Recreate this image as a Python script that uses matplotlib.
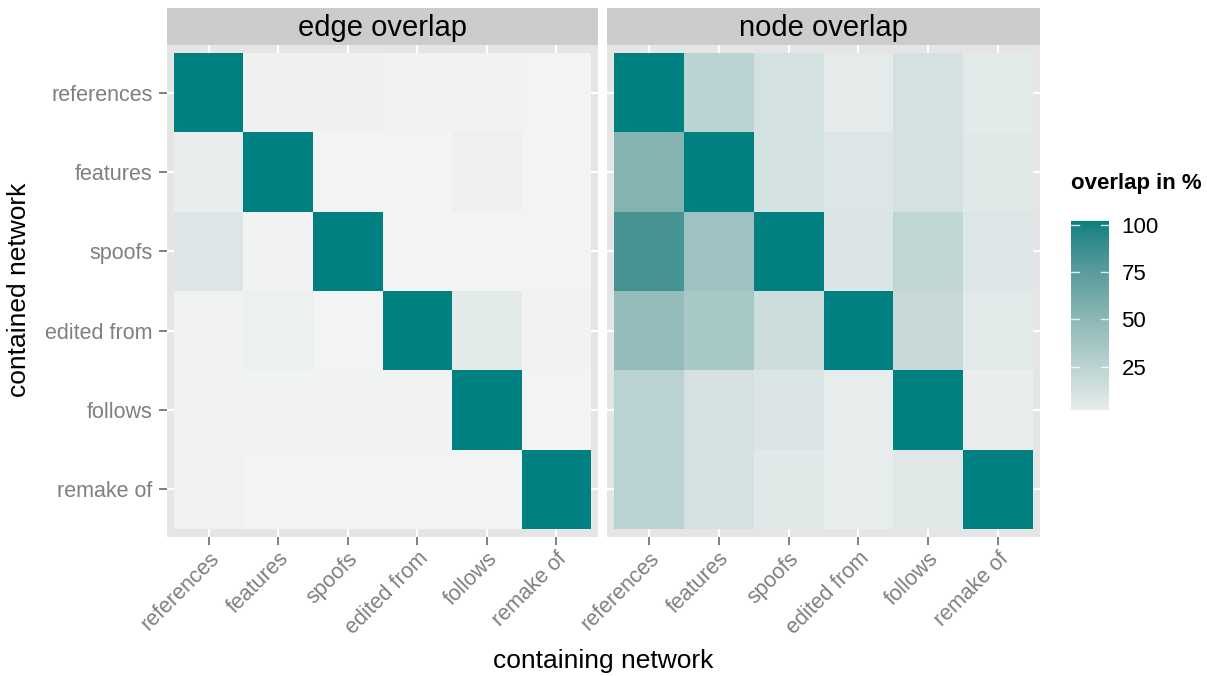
import numpy as np
import matplotlib
matplotlib.use("Agg")
import matplotlib.pyplot as plt
from matplotlib.colors import ListedColormap, Normalize, to_rgb

# --- DATA ---
networks = ["references", "features", "spoofs", "edited from", "follows", "remake of"]
panel_titles = ["edge overlap", "node overlap"]

# rows = contained network, columns = containing network (overlap in %)
edge_overlap = [
    [100, 2.0, 2.0, 1.0, 1.5, 0.5],
    [5.0, 100, 0.5, 0.7, 2.5, 0.5],
    [11.0, 1.2, 100, 0.5, 0.5, 0.5],
    [1.8, 3.0, 0.5, 100, 8.0, 1.0],
    [1.2, 1.2, 0.8, 1.2, 100, 0.5],
    [1.8, 0.6, 0.7, 0.5, 0.5, 100],
]
node_overlap = [
    [100, 27, 16, 7, 15, 8],
    [55, 100, 16, 11, 15, 9],
    [83, 42, 100, 12, 25, 11],
    [47, 37, 19, 100, 22, 8],
    [28, 15, 12, 6, 100, 5],
    [28, 16, 9, 6, 10, 100],
]
legend_ticks = [25, 50, 75, 100]

# --- STYLE ---
W, H = 1207, 676
LOW, HIGH = "#f3f3f3", "#008080"
PANEL_BG = "#e5e5e5"
STRIP_BG = "#cccccc"
TICK_GREY = "#7f7f7f"
plt.rcParams["font.family"] = ["Liberation Sans", "DejaVu Sans"]


# gradient interpolated in Lab space (like ggplot's seq_gradient_pal)
def srgb_to_lab(c):
    c = np.array(to_rgb(c))
    lin = np.where(c <= 0.04045, c / 12.92, ((c + 0.055) / 1.055) ** 2.4)
    m = np.array([[0.4124, 0.3576, 0.1805], [0.2126, 0.7152, 0.0722], [0.0193, 0.1192, 0.9505]])
    xyz = m @ lin / np.array([0.9505, 1.0, 1.089])
    f = np.where(xyz > 0.008856, np.cbrt(xyz), 7.787 * xyz + 16 / 116)
    return np.array([116 * f[1] - 16, 500 * (f[0] - f[1]), 200 * (f[1] - f[2])])


def lab_to_srgb(lab):
    L, a, b = lab
    fy = (L + 16) / 116
    f = np.array([fy + a / 500, fy, fy - b / 200])
    xyz = np.where(f ** 3 > 0.008856, f ** 3, (f - 16 / 116) / 7.787) * np.array([0.9505, 1.0, 1.089])
    m = np.array([[3.2406, -1.5372, -0.4986], [-0.9689, 1.8758, 0.0415], [0.0557, -0.2040, 1.0570]])
    lin = np.clip(m @ xyz, 0, 1)
    return np.where(lin <= 0.0031308, 12.92 * lin, 1.055 * lin ** (1 / 2.4) - 0.055).clip(0, 1)


lab_lo, lab_hi = srgb_to_lab(LOW), srgb_to_lab(HIGH)
cmap = ListedColormap([lab_to_srgb(lab_lo + t * (lab_hi - lab_lo)) for t in np.linspace(0, 1, 256)])
norm = Normalize(vmin=0, vmax=100)


def px_axes(fig, x0, y0, x1, y1):
    # pixel box (top-left origin) -> figure axes
    return fig.add_axes([x0 / W, 1 - y1 / H, (x1 - x0) / W, (y1 - y0) / H])


fig = plt.figure(figsize=(W / 100, H / 100), dpi=100)
fig.patch.set_facecolor("white")

panels = [(167, 598), (607, 1040)]
edges = np.arange(len(networks) + 1) - 0.5

for i, (data, title, (x0, x1)) in enumerate(zip([edge_overlap, node_overlap], panel_titles, panels)):
    ax = px_axes(fig, x0, 45, x1, 537)
    ax.set_facecolor(PANEL_BG)
    ax.pcolormesh(edges, edges, np.array(data), cmap=cmap, norm=norm, zorder=2)
    ax.set_xlim(-0.6, len(networks) - 0.4)
    ax.set_ylim(len(networks) - 0.4, -0.6)
    ax.set_xticks(range(len(networks)))
    ax.set_yticks(range(len(networks)))
    ax.grid(True, color="white", linewidth=1.6, zorder=1)
    ax.set_axisbelow(True)
    for s in ax.spines.values():
        s.set_visible(False)
    ax.tick_params(length=5.5, width=1.4, color=TICK_GREY, labelcolor=TICK_GREY,
                   labelsize=15.5, pad=2.5)
    ax.tick_params(axis="y", pad=5)
    ax.set_xticklabels(networks, rotation=45, ha="right", va="top", rotation_mode="anchor")
    if i == 0:
        ax.set_yticklabels(networks)
    else:
        ax.set_yticklabels([])
        ax.tick_params(axis="y", length=0)

    strip = px_axes(fig, x0, 8, x1, 45)
    strip.set_facecolor(STRIP_BG)
    strip.set_xticks([])
    strip.set_yticks([])
    for s in strip.spines.values():
        s.set_visible(False)
    strip.text(0.5, 0.47, title, ha="center", va="center", fontsize=21, color="black",
               transform=strip.transAxes)

# axis titles
fig.text(603 / W, 1 - 661 / H, "containing network", ha="center", va="center", fontsize=19)
fig.text(19 / W, 1 - 290 / H, "contained network", ha="center", va="center",
         fontsize=19, rotation=90)

# colour bar legend
cax = px_axes(fig, 1071, 221, 1109, 410)
grad = np.linspace(6, 100, 256).reshape(-1, 1)
cax.imshow(grad, cmap=cmap, norm=norm, aspect="auto", origin="lower",
           extent=[0, 1, 2, 102])
cax.set_xlim(0, 1)
cax.set_ylim(2, 102)
for s in cax.spines.values():
    s.set_visible(False)
cax.set_xticks([])
cax.set_yticks(legend_ticks)
cax.tick_params(axis="y", length=0, labelsize=16, pad=9, labelleft=False, labelright=True)
for t in legend_ticks:
    cax.plot([0, 0.2], [t, t], color="white", lw=1, alpha=0.8)
    cax.plot([0.8, 1], [t, t], color="white", lw=1, alpha=0.8)
fig.text(1071 / W, 1 - 183 / H, "overlap in %", ha="left", va="center",
         fontsize=16, fontweight="bold")

fig.savefig("out.png", dpi=100, facecolor="white")
